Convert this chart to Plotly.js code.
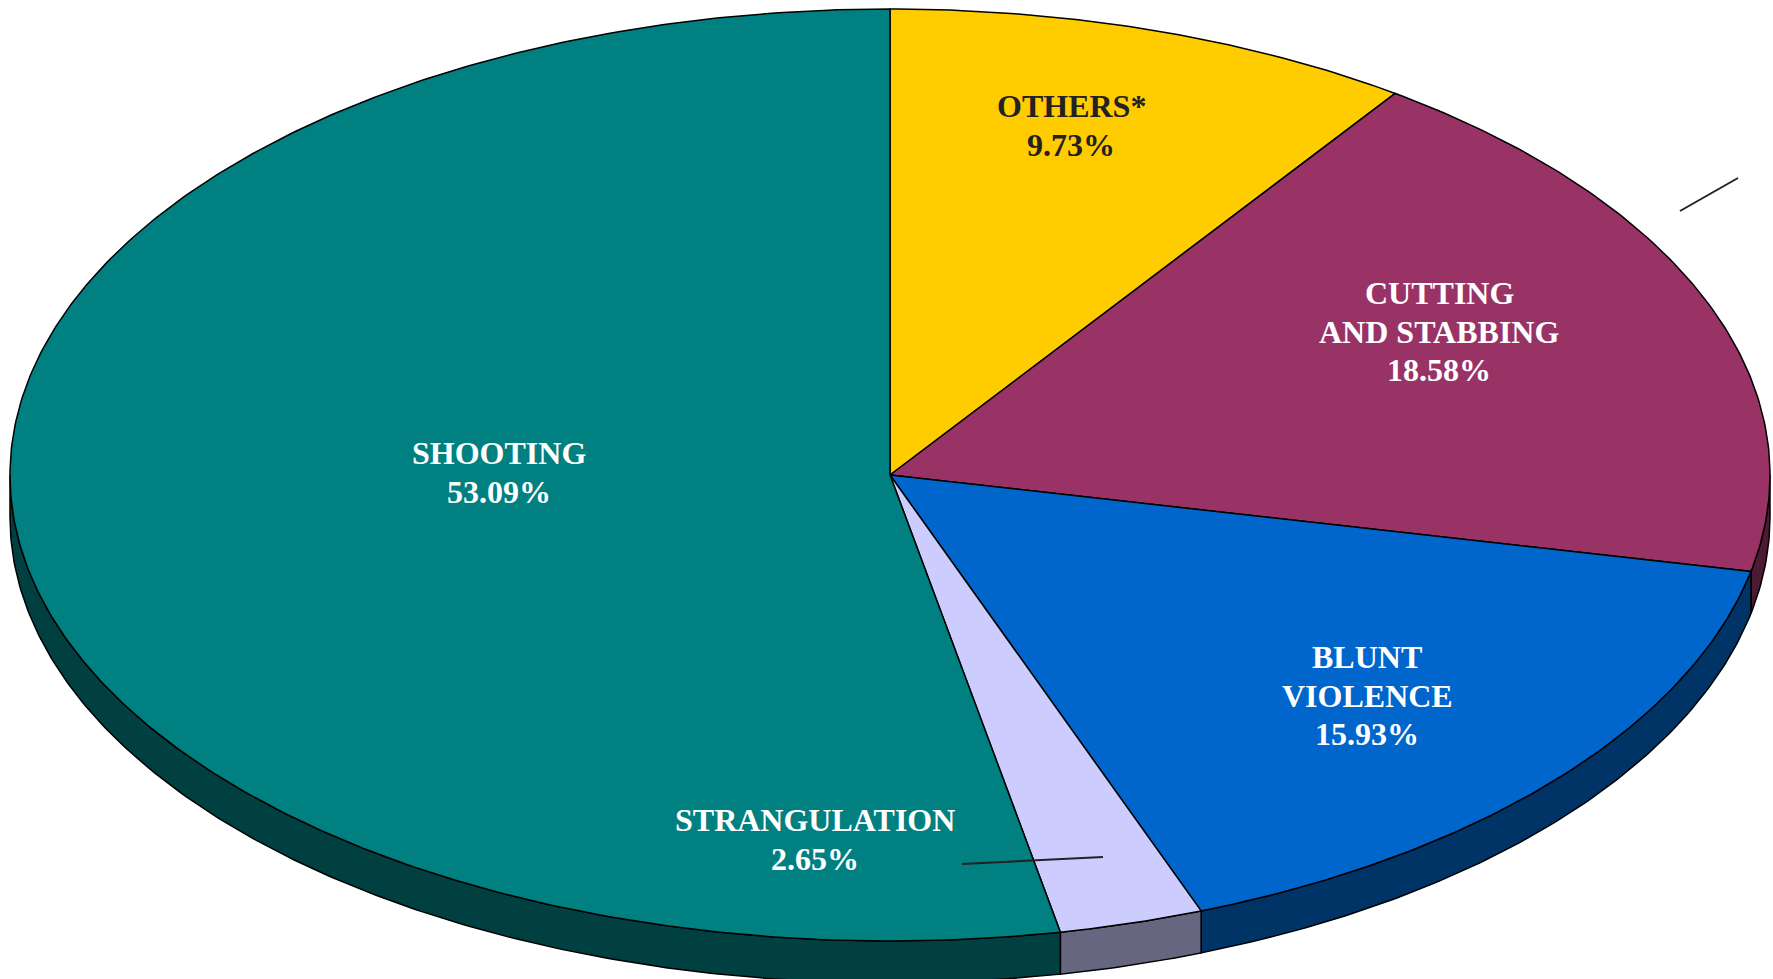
<!DOCTYPE html>
<html><head><meta charset="utf-8">
<script src="https://cdn.plot.ly/plotly-3.0.1.min.js"></script>
<style>html,body{margin:0;padding:0;background:#fff;overflow:hidden}</style>
</head><body><div id="chart" style="width:1773px;height:979px"></div>
<script>
// ---- data (clockwise from 12 o'clock) ----
const categories = ["OTHERS*", "CUTTING|AND STABBING", "BLUNT|VIOLENCE", "STRANGULATION", "SHOOTING"];
const percents = [9.73, 18.58, 15.93, 2.65, 53.09];
const pctLabels = ["9.73%", "18.58%", "15.93%", "2.65%", "53.09%"];

// ---- styles ----
const topColors = ["#FFCC00", "#993366", "#0066CC", "#CCCCFF", "#008080"];
const sideColors = ["#806600", "#4D1A33", "#003366", "#666680", "#004040"];
const textColors = ["#222222", "#FFFFFF", "#FFFFFF", "#FFFFFF", "#FFFFFF"];
// label block: [center x, first line center y]
const labelPos = [[1071, 106], [1439, 293], [1367, 657], [815, 820], [499, 453]];
const linePitch = 38.5;

// ---- geometry (pixels) ----
const W = 1773, H = 979;
const cx = 890, cy = 475, rx = 880, ry = 466, depth = 42;

const total = percents.reduce((a, b) => a + b, 0);
const rad = d => d * Math.PI / 180;
const px = t => cx + rx * Math.sin(rad(t));
const py = t => cy - ry * Math.cos(rad(t));

function arc(a, b, dy) {
  const xs = [], ys = [];
  const n = Math.max(2, Math.ceil(Math.abs(b - a) / 0.5));
  for (let i = 0; i <= n; i++) {
    const t = a + (b - a) * i / n;
    xs.push(px(t)); ys.push(py(t) + dy);
  }
  return [xs, ys];
}

const traces = [];
let acc = 0;
const spans = percents.map(v => { const s = [acc, acc + v / total * 360]; acc = s[1]; return s; });

// rim (front faces) first
spans.forEach(([t0, t1], i) => {
  const a = Math.max(t0, 90), b = Math.min(t1, 270);
  if (a >= b) return;
  const [x1, y1] = arc(a, b, 0);
  const [x2, y2] = arc(b, a, depth);
  traces.push({
    type: "scatter", mode: "lines", x: x1.concat(x2, [x1[0]]), y: y1.concat(y2, [y1[0]]),
    fill: "toself", fillcolor: sideColors[i], line: { color: "#000", width: 1.5 },
    hoverinfo: "skip", showlegend: false
  });
});

// top surfaces
spans.forEach(([t0, t1], i) => {
  const [xa, ya] = arc(t0, t1, 0);
  traces.push({
    type: "scatter", mode: "lines", x: [cx].concat(xa, [cx]), y: [cy].concat(ya, [cy]),
    fill: "toself", fillcolor: topColors[i], line: { color: "#000", width: 1.5 },
    hoverinfo: "skip", showlegend: false, name: categories[i]
  });
});

const annotations = [];
categories.forEach((c, i) => {
  const lines = c.split("|").concat([pctLabels[i]]);
  lines.forEach((ln, k) => {
    annotations.push({
      x: labelPos[i][0], y: labelPos[i][1] + k * linePitch, xref: "x", yref: "y",
      text: "<b>" + ln + "</b>", showarrow: false,
      xanchor: "center", yanchor: "middle", align: "center",
      font: { family: "Liberation Serif, Times New Roman, serif", size: 32, color: textColors[i] }
    });
  });
});

const shapes = [
  { type: "line", xref: "x", yref: "y", x0: 962, y0: 864, x1: 1103, y1: 857, line: { color: "#222", width: 2 } },
  { type: "line", xref: "x", yref: "y", x0: 1680, y0: 211, x1: 1738, y1: 178, line: { color: "#222", width: 2 } }
];

const layout = {
  width: W, height: H, margin: { l: 0, r: 0, t: 0, b: 0 },
  paper_bgcolor: "#fff", plot_bgcolor: "#fff", showlegend: false,
  xaxis: { range: [0, W], visible: false, fixedrange: true },
  yaxis: { range: [H, 0], visible: false, fixedrange: true },
  annotations, shapes
};

Plotly.newPlot("chart", traces, layout, { displayModeBar: false, staticPlot: true });
</script></body></html>
